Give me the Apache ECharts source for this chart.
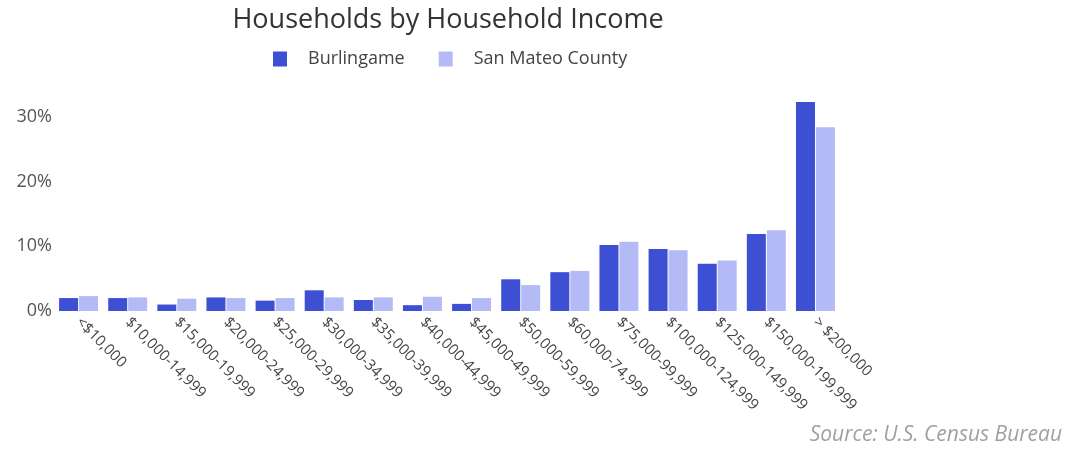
<!DOCTYPE html>
<html>
<head>
<meta charset="utf-8">
<script src="https://cdn.jsdelivr.net/npm/echarts@6/dist/echarts.min.js"></script>
<style>
  html, body { margin: 0; padding: 0; background: #ffffff; }
  #chart { width: 1079px; height: 449px; }
</style>
</head>
<body>
<div id="chart"></div>
<script>
// Income brackets
const categories = [
  '<$10,000', '$10,000-14,999', '$15,000-19,999', '$20,000-24,999',
  '$25,000-29,999', '$30,000-34,999', '$35,000-39,999', '$40,000-44,999',
  '$45,000-49,999', '$50,000-59,999', '$60,000-74,999', '$75,000-99,999',
  '$100,000-124,999', '$125,000-149,999', '$150,000-199,999', '> $200,000'
];

// Share of households (%)
const burlingame = [2.0, 2.0, 1.0, 2.1, 1.6, 3.2, 1.7, 0.9, 1.1, 4.9, 6.0, 10.2, 9.6, 7.3, 11.9, 32.3];
const sanMateo   = [2.3, 2.1, 1.9, 2.0, 2.0, 2.1, 2.1, 2.2, 2.0, 4.0, 6.2, 10.7, 9.4, 7.8, 12.5, 28.4];

// Y axis: labelled every 10%, with a little headroom above the last label
const yTickStep = 10;
const yMax = 33;

const FONT = '"Open Sans", Lato, sans-serif';

const chart = echarts.init(document.getElementById('chart'));
chart.setOption({
  backgroundColor: '#ffffff',
  animation: false,
  title: [{
    text: 'Households by Household Income',
    left: 443, top: 2, textAlign: 'center',
    textStyle: { fontFamily: FONT, fontSize: 27, fontWeight: 'normal', color: '#333333' }
  }, {
    text: 'Source: U.S. Census Bureau',
    right: 12, top: 420,
    textStyle: { fontFamily: FONT, fontSize: 21, fontStyle: 'italic', fontWeight: 'normal', color: '#a0a0a0' }
  }],
  legend: {
    top: 45, left: 268,
    itemWidth: 14, itemHeight: 15, itemGap: 34,
    icon: 'rect',
    textStyle: { fontFamily: FONT, fontSize: 18, color: '#444444', padding: [0, 0, 0, 16] },
    data: ['Burlingame', 'San Mateo County']
  },
  grid: { left: 54, right: 239, top: 97.5, bottom: 138, containLabel: false },
  xAxis: {
    type: 'category',
    data: categories,
    axisLine: { show: false },
    axisTick: { show: false },
    axisLabel: {
      interval: 0, rotate: -45, margin: 9,
      fontFamily: FONT, fontSize: 15, color: '#444444'
    }
  },
  yAxis: {
    type: 'value',
    min: 0, max: yMax, interval: yTickStep,
    splitLine: { show: false },
    axisLine: { show: false },
    axisTick: { show: false },
    axisLabel: {
      margin: 2, showMaxLabel: false,
      fontFamily: FONT, fontSize: 18, color: '#555555',
      formatter: v => v + '%'
    }
  },
  series: [{
    name: 'Burlingame',
    type: 'bar',
    data: burlingame,
    barWidth: 19,
    barGap: '5%',
    itemStyle: { color: '#3d50d4' }
  }, {
    name: 'San Mateo County',
    type: 'bar',
    data: sanMateo,
    barWidth: 19,
    itemStyle: { color: '#b3baf6' }
  }]
});
</script>
</body>
</html>
